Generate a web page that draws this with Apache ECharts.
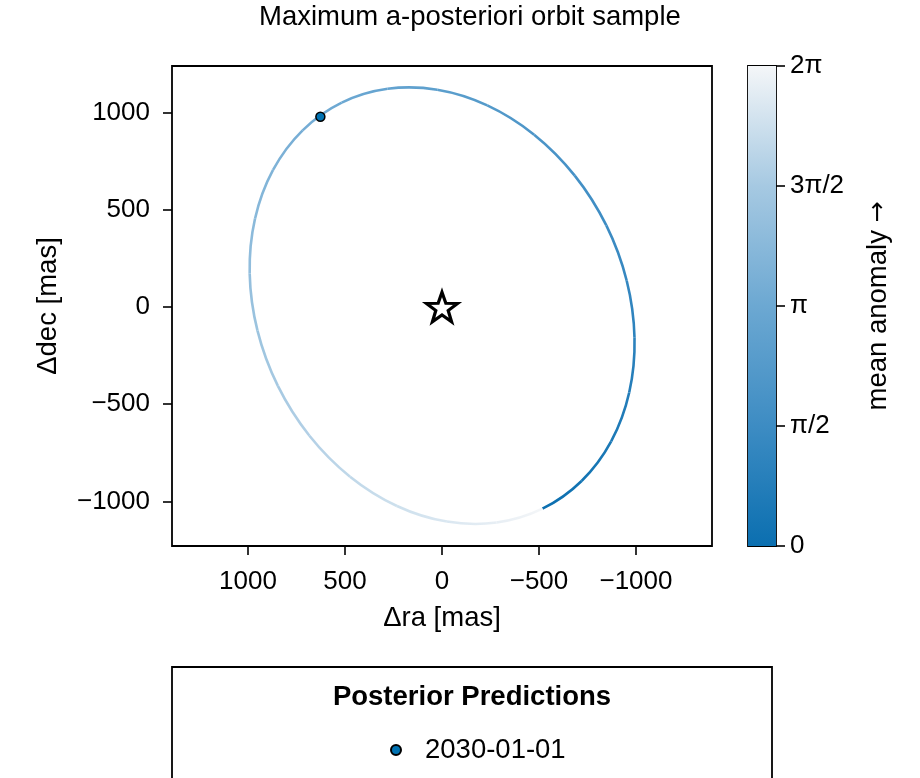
<!DOCTYPE html>
<html>
<head>
<meta charset="utf-8">
<script src="https://cdn.jsdelivr.net/npm/echarts@6/dist/echarts.min.js"></script>
<style>
html,body{margin:0;padding:0;background:#fff;}
#chart{width:920px;height:778px;}
</style>
</head>
<body>
<div id="chart"></div>
<script>
// ---- data ----
const raTicks = [-1000, -500, 0, 500, 1000];
const decTicks = [-1000, -500, 0, 500, 1000];
// orbit track (Δra, Δdec in mas) and its mean anomaly (rad), read along the drawn ellipse
const orbitRa  = [-518.0,-719.6,-872.1,-965.2,-992.5,-952.3,-847.2,-684.4,-475.0,-233.4,24.3,280.3,517.0,718.6,871.0,964.1,991.5,951.3,846.2,683.4,474.0,232.3,-25.4,-281.3,-518.0];
const orbitDec = [-1037.2,-894.8,-691.1,-439.8,-158.0,135.0,419.2,675.4,885.9,1036.5,1116.9,1121.7,1050.6,908.2,704.5,453.2,171.4,-121.6,-405.9,-662.0,-872.5,-1023.1,-1103.5,-1108.4,-1037.2];
const orbitM   = [0,0.262,0.524,0.785,1.047,1.309,1.571,1.833,2.094,2.356,2.618,2.880,3.142,3.403,3.665,3.927,4.189,4.451,4.712,4.974,5.236,5.498,5.760,6.021,6.283];
const predLabels = ['2030-01-01'];
const predRa = [627];
const predDec = [978];
const starRa = [0];
const starDec = [0];
const cbarTicks = [0, Math.PI/2, Math.PI, 3*Math.PI/2, 2*Math.PI];
const cbarLabels = ['0', 'π/2', 'π', '3π/2', '2π'];
const cmapStops = ['#0b6fb0', '#3d8cc3', '#6ca8d2', '#a6c9e2', '#f4f6f8'];

// ---- helpers ----
function hexToRgb(h){ return [parseInt(h.slice(1,3),16), parseInt(h.slice(3,5),16), parseInt(h.slice(5,7),16)]; }
function cmap(t){
  t = Math.max(0, Math.min(1, t));
  const n = cmapStops.length - 1;
  const i = Math.min(n - 1, Math.floor(t * n));
  const f = t * n - i;
  const a = hexToRgb(cmapStops[i]), b = hexToRgb(cmapStops[i+1]);
  const c = a.map((v, k) => Math.round(v + (b[k] - v) * f));
  return 'rgb(' + c.join(',') + ')';
}
const fmt = v => v < 0 ? '\u2212' + Math.abs(v) : String(v);
const FONT = '"Liberation Sans", Arial, sans-serif';

// one item per orbit segment:
// [ra_i, dec_i, ra_i+1, dec_i+1, ra_prev, dec_prev, ra_next, dec_next, M_i, M_i+1]
const nPts = orbitRa.length;            // last point closes the loop
const segData = [];
for (let i = 0; i < nPts - 1; i++) {
  const prev = i === 0 ? nPts - 2 : i - 1;
  const next = i + 2 <= nPts - 1 ? i + 2 : 1;
  segData.push([orbitRa[i], orbitDec[i], orbitRa[i+1], orbitDec[i+1],
                orbitRa[prev], orbitDec[prev], orbitRa[next], orbitDec[next],
                orbitM[i], orbitM[i+1]]);
}

function renderSegment(params, api) {
  const p1 = api.coord([api.value(0), api.value(1)]);
  const p2 = api.coord([api.value(2), api.value(3)]);
  const p0 = api.coord([api.value(4), api.value(5)]);
  const p3 = api.coord([api.value(6), api.value(7)]);
  const cp1 = [p1[0] + (p2[0] - p0[0]) / 6, p1[1] + (p2[1] - p0[1]) / 6];
  const cp2 = [p2[0] - (p3[0] - p1[0]) / 6, p2[1] - (p3[1] - p1[1]) / 6];
  const grad = new echarts.graphic.LinearGradient(p1[0], p1[1], p2[0], p2[1], [
    { offset: 0, color: cmap(api.value(8) / (2*Math.PI)) },
    { offset: 1, color: cmap(api.value(9) / (2*Math.PI)) }
  ], true);
  return {
    type: 'bezierCurve',
    shape: { x1: p1[0], y1: p1[1], x2: p2[0], y2: p2[1], cpx1: cp1[0], cpy1: cp1[1], cpx2: cp2[0], cpy2: cp2[1] },
    style: { stroke: grad, lineWidth: 2.6, fill: null, lineCap: 'butt' }
  };
}

const starPath = 'path://M50 0 L61.76 33.82 L97.55 34.55 L69.02 56.18 L79.39 90.45 L50 70 L20.61 90.45 L30.98 56.18 L2.45 34.55 L38.24 33.82 Z';

const chart = echarts.init(document.getElementById('chart'), null, {renderer: 'canvas'});
const option = {
  animation: false,
  backgroundColor: '#fff',
  textStyle: { fontFamily: FONT, color: '#000' },
  title: {
    text: 'Maximum a-posteriori orbit sample',
    left: 259, top: 1, padding: 0,
    textStyle: { fontFamily: FONT, fontSize: 27.5, fontWeight: 'normal', color: '#000', lineHeight: 32 }
  },
  legend: {
    data: predLabels,
    left: 385, top: 731,
    itemWidth: 48, itemHeight: 10,
    selectedMode: false,
    itemStyle: { opacity: 1 },
    textStyle: { fontFamily: FONT, fontSize: 27.5, color: '#000' }
  },
  grid: [
    { left: 172, top: 66, width: 540, height: 480, show: true, borderColor: '#000', borderWidth: 1.8, backgroundColor: 'transparent' },
    { left: 748, top: 66, width: 28, height: 480, show: true, borderColor: '#000', borderWidth: 1.8, backgroundColor: 'transparent' }
  ],
  xAxis: [
    {
      gridIndex: 0, type: 'value', inverse: true, min: -1392, max: 1392,
      axisLine: { show: false, onZero: false },
      axisTick: { show: true, inside: false, length: 9, lineStyle: { color: '#000', width: 1.6 }, customValues: raTicks },
      axisLabel: { customValues: raTicks, formatter: fmt, fontFamily: FONT, fontSize: 26, color: '#000', margin: 23 },
      splitLine: { show: false },
      name: 'Δra [mas]', nameLocation: 'middle', nameGap: 58,
      nameTextStyle: { fontFamily: FONT, fontSize: 27.5, color: '#000' }
    },
    { gridIndex: 1, type: 'category', data: [''], show: false }
  ],
  yAxis: [
    {
      gridIndex: 0, type: 'value', min: -1229, max: 1239,
      axisLine: { show: false, onZero: false },
      axisTick: { show: true, inside: false, length: 9, lineStyle: { color: '#000', width: 1.6 }, customValues: decTicks },
      axisLabel: { customValues: decTicks, formatter: fmt, fontFamily: FONT, fontSize: 26, color: '#000', margin: 22 },
      splitLine: { show: false },
      name: 'Δdec [mas]', nameLocation: 'middle', nameGap: 110, nameRotate: 90,
      nameTextStyle: { fontFamily: FONT, fontSize: 27.5, color: '#000' }
    },
    {
      gridIndex: 1, type: 'value', position: 'right', min: 0, max: 2*Math.PI,
      axisLine: { show: false, onZero: false },
      axisTick: { show: true, inside: false, length: 9, lineStyle: { color: '#000', width: 1.6 }, customValues: cbarTicks },
      axisLabel: { customValues: cbarTicks, formatter: v => { const i = cbarTicks.findIndex(t => Math.abs(t - v) < 1e-6); return i >= 0 ? cbarLabels[i] : ''; }, fontFamily: FONT, fontSize: 26, color: '#000', margin: 14 },
      splitLine: { show: false },
      name: 'mean anomaly {ar|→}', nameLocation: 'middle', nameGap: 88, nameRotate: 90,
      nameTextStyle: { fontFamily: FONT, fontSize: 27.5, color: '#000',
        rich: { ar: { fontFamily: '"DejaVu Sans", sans-serif', fontSize: 25, color: '#000' } } }
    }
  ],
  graphic: [
    { type: 'rect', shape: { x: 172, y: 667, width: 600, height: 140 }, style: { fill: 'none', stroke: '#000', lineWidth: 1.8 }, z: 100 },
    { type: 'text', x: 472, y: 697, style: { text: 'Posterior Predictions', font: 'bold 27.5px ' + FONT, fill: '#000', textAlign: 'center', textVerticalAlign: 'middle' }, z: 100 }
  ],
  series: [
    {
      type: 'custom', name: 'orbit', coordinateSystem: 'cartesian2d', xAxisIndex: 0, yAxisIndex: 0,
      silent: true, z: 2,
      renderItem: renderSegment,
      encode: { x: [0, 2, 4, 6], y: [1, 3, 5, 7] },
      data: segData
    },
    {
      type: 'scatter', name: 'star', xAxisIndex: 0, yAxisIndex: 0, z: 3, silent: true,
      symbol: starPath, symbolKeepAspect: true, symbolSize: 31,
      itemStyle: { color: '#fff', borderColor: '#000', borderWidth: 3.2, opacity: 1 },
      data: starRa.map((x, i) => [x, starDec[i]])
    },
    {
      type: 'scatter', name: predLabels[0], xAxisIndex: 0, yAxisIndex: 0, z: 4,
      symbol: 'circle', symbolSize: 9,
      itemStyle: { color: '#0072b2', borderColor: '#000', borderWidth: 1.5, opacity: 1 },
      data: predRa.map((x, i) => [x, predDec[i]])
    },
    {
      type: 'bar', name: 'colorbar', xAxisIndex: 1, yAxisIndex: 1, barWidth: '100%', silent: true,
      itemStyle: {
        color: new echarts.graphic.LinearGradient(0, 1, 0, 0, cmapStops.map((c, i) => ({ offset: i / (cmapStops.length - 1), color: c })))
      },
      data: [2*Math.PI]
    }
  ]
};
chart.setOption(option);
</script>
</body>
</html>
